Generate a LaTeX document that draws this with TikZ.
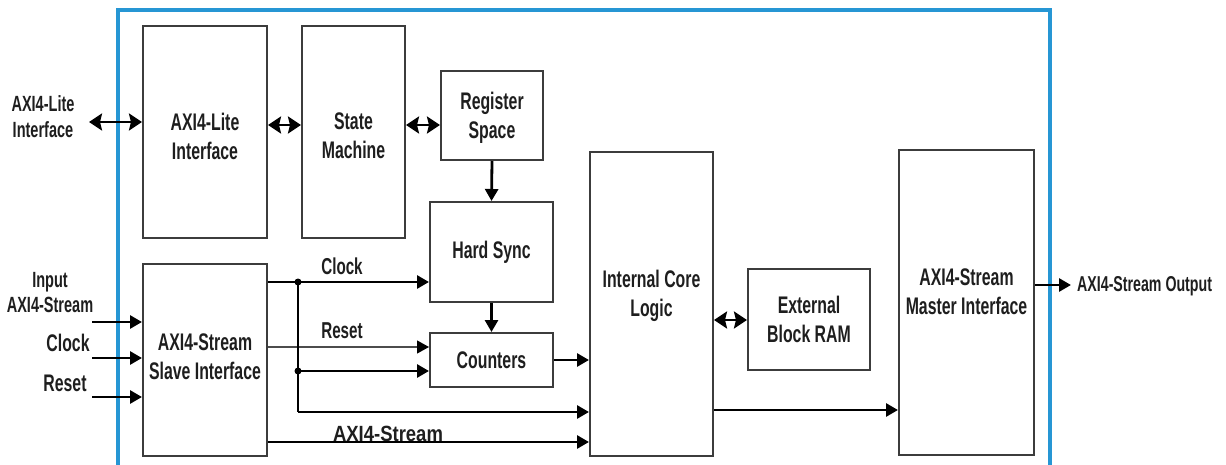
\documentclass[tikz,border=0pt]{standalone}
\usepackage{fontspec}
\setmainfont{Liberation Sans}[FakeStretch=0.66]
\newfontfamily\widefont{Liberation Sans}[FakeStretch=0.84]
\usepackage{xcolor}
\definecolor{frameblue}{RGB}{38,150,212}
\definecolor{boxgray}{RGB}{60,60,60}
\definecolor{textgray}{RGB}{30,30,30}
\usetikzlibrary{positioning,arrows.meta,calc}
\tikzset{
  blockbox/.style={draw=boxgray,line width=2pt,fill=white,align=center,inner sep=0pt,
    font=\fontsize{24}{29}\selectfont\bfseries,text=textgray},
  boxtext/.style={align=center,inner sep=0pt,font=\fontsize{24}{29}\selectfont\bfseries,text=textgray},
  lbl/.style={align=center,font=\fontsize{22}{26}\selectfont\bfseries,text=textgray,inner sep=0pt},
  sigarrow/.style={line width=2.8pt,-{Triangle[length=12pt,width=13pt]}},
  biarrow/.style={line width=2.8pt,{Stealth[length=13pt,width=17pt,inset=2pt]}-{Stealth[length=13pt,width=17pt,inset=2pt]}},
  junction/.style={circle,fill=black,inner sep=0pt,minimum size=7pt}
}
\begin{document}
\begin{tikzpicture}[x=1pt,y=-1pt]
  \useasboundingbox (0,0) rectangle (1226,465);
  % frame of the core
  \begin{scope}
    \clip (0,0) rectangle (1226,465);
    \draw[frameblue,line width=4.5pt] (118,480) -- (118,10) -- (1050,10) -- (1050,480);
  \end{scope}
  % --- blocks ---
  \node[blockbox,minimum width=124pt,minimum height=212pt] (lite)   at (205,132)   {};
  \node[boxtext] at ([yshift=-4pt]lite.center) {AXI4-Lite\\Interface};
  \node[blockbox,minimum width=103pt,minimum height=212pt] (sm)     at (353.5,132) {};
  \node[boxtext] at ([yshift=-4pt]sm.center) {State\\Machine};
  \node[blockbox,minimum width=102pt,minimum height=89pt]  (reg)    at (492,115.5) {};
  \node[boxtext] at ([yshift=-2pt]reg.center) {Register\\Space};
  \node[blockbox,minimum width=123pt,minimum height=100pt] (hs)     at (491.5,252) {Hard Sync};
  \node[blockbox,minimum width=123pt,minimum height=54pt]  (cnt)    at (491.5,360) {Counters};
  \node[blockbox,minimum width=124pt,minimum height=192pt] (slave)  at (205,360)   {};
  \node[boxtext] at ([yshift=3pt]slave.center) {AXI4-Stream\\Slave Interface};
  \node[blockbox,minimum width=123pt,minimum height=304pt] (core)   at (651.5,304) {};
  \node[boxtext] at ([yshift=8pt]core.center) {Internal Core\\Logic};
  \node[blockbox,minimum width=122pt,minimum height=101pt] (ram)    at (809,319.5) {External\\Block RAM};
  \node[blockbox,minimum width=135pt,minimum height=305pt] (master) at (966.5,302.5) {};
  \node[boxtext] at ([yshift=11pt]master.center) {AXI4-Stream\\Master Interface};
  % --- outside labels ---
  \node[lbl] (litelbl) at (43,117) {AXI4-Lite\\Interface};
  \node[lbl,font=\fontsize{22}{25}\selectfont\bfseries] (inlbl) at (50,293) {Input\\AXI4-Stream};
  \node[lbl,font=\fontsize{24}{26}\selectfont\bfseries] (clklbl) at (68,343) {Clock};
  \node[lbl,font=\fontsize{24}{26}\selectfont\bfseries] (rstlbl) at (65,383) {Reset};
  \node[lbl,anchor=west,font=\fontsize{21.5}{24}\selectfont\bfseries] (outlbl) at (1077,286) {AXI4-Stream Output};
  % --- inner labels ---
  \node[lbl,font=\fontsize{23}{25}\selectfont\bfseries] (clkin) at (342,266) {Clock};
  \node[lbl,font=\fontsize{23}{25}\selectfont\bfseries] (rstin) at (342,331) {Reset};
  \node[lbl,font=\widefont\fontsize{22}{24}\selectfont\bfseries] (strin) at (388,434) {AXI4-Stream};
  % --- free ends and junctions ---
  \coordinate (liteext) at (89,122);
  \coordinate (in1) at (92,322);
  \coordinate (in2) at (92,358);
  \coordinate (in3) at (92,397);
  \coordinate (outend) at (1071,285);
  \coordinate (clkdot) at (298,282);
  \coordinate (rstdot) at (298,371);
  \coordinate (clkbot) at (298,412);
  % --- AXI4-Lite path ---
  \draw[biarrow] (liteext) -- (lite.west |- liteext);
  \draw[biarrow] (lite.east |- 0,125) -- (sm.west |- 0,125);
  \draw[biarrow] (sm.east |- 0,125) -- (reg.west |- 0,125);
  \draw[sigarrow] (reg.south) -- (hs.north);
  \draw[sigarrow] (hs.south) -- (cnt.north);
  % --- stream inputs ---
  \draw[sigarrow] (in1) -- (slave.west |- in1);
  \draw[sigarrow] (in2) -- (slave.west |- in2);
  \draw[sigarrow] (in3) -- (slave.west |- in3);
  % --- clock, reset and stream from slave ---
  \draw[sigarrow] (slave.east |- clkdot) -- (hs.west |- clkdot);
  \draw[line width=1.2pt,draw=black!70,-{Triangle[length=12pt,width=13pt,color=black]}] (slave.east |- 0,347) -- (cnt.west |- 0,347);
  \draw[line width=2.4pt] (clkdot) -- (clkbot);
  \draw[sigarrow] (rstdot) -- (cnt.west |- rstdot);
  \draw[sigarrow] (clkbot) -- (core.west |- clkbot);
  \draw[sigarrow] (slave.east |- 0,442) -- (core.west |- 0,442);
  \node[junction] at (clkdot) {};
  \node[junction] at (rstdot) {};
  % --- core side ---
  \draw[sigarrow] (cnt.east) -- (core.west |- cnt.east);
  \draw[biarrow] (core.east |- 0,320) -- (ram.west |- 0,320);
  \draw[sigarrow] (core.east |- 0,410) -- (master.west |- 0,410);
  \draw[sigarrow] (master.east |- outend) -- (outend);
\end{tikzpicture}
\end{document}
